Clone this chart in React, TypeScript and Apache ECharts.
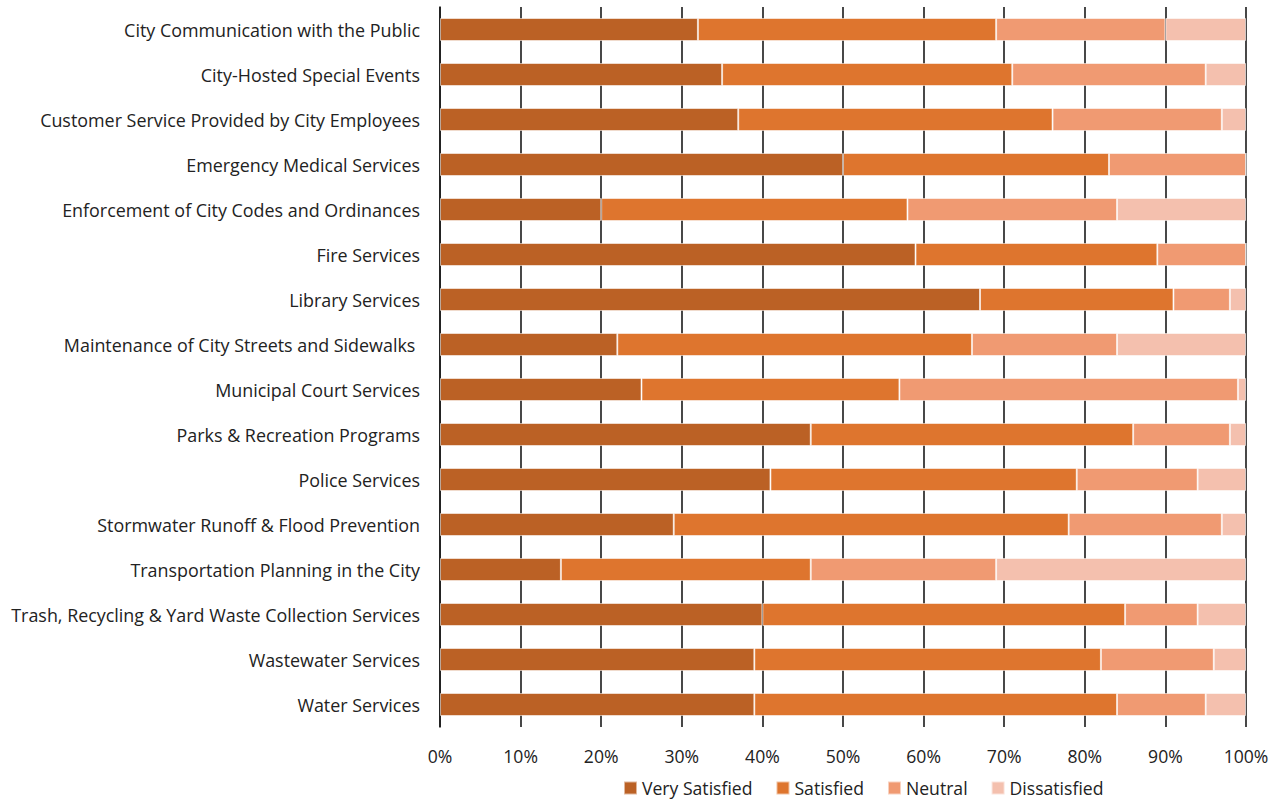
import React, { useEffect, useRef } from "react";
import * as echarts from "echarts";

const categories = [
  "City Communication with the Public",
  "City-Hosted Special Events",
  "Customer Service Provided by City Employees",
  "Emergency Medical Services",
  "Enforcement of City Codes and Ordinances",
  "Fire Services",
  "Library Services",
  "Maintenance of City Streets and Sidewalks ",
  "Municipal Court Services",
  "Parks & Recreation Programs",
  "Police Services",
  "Stormwater Runoff & Flood Prevention",
  "Transportation Planning in the City",
  "Trash, Recycling & Yard Waste Collection Services",
  "Wastewater Services",
  "Water Services",
];

const verySatisfied = [32, 35, 37, 50, 20, 59, 67, 22, 25, 46, 41, 29, 15, 40, 39, 39];
const satisfied = [37, 36, 39, 33, 38, 30, 24, 44, 32, 40, 38, 49, 31, 45, 43, 45];
const neutral = [21, 24, 21, 17, 26, 11, 7, 18, 42, 12, 15, 19, 23, 9, 14, 11];
const dissatisfied = [10, 5, 3, 0, 16, 0, 2, 16, 1, 2, 6, 3, 31, 6, 4, 5];

const seriesNames = ["Very Satisfied", "Satisfied", "Neutral", "Dissatisfied"];
const seriesColors = ["#BB6125", "#DE752E", "#F09A72", "#F4C0AE"];
const seriesData = [verySatisfied, satisfied, neutral, dissatisfied];

const FONT = "'Open Sans', 'Noto Sans', sans-serif";

export default function App() {
  const ref = useRef<HTMLDivElement>(null);

  useEffect(() => {
    if (!ref.current) return;
    const chart = echarts.init(ref.current, undefined, { renderer: "svg" });
    chart.setOption({
      animation: false,
      textStyle: { fontFamily: FONT },
      legend: {
        top: 774,
        left: 618,
        itemWidth: 13,
        itemHeight: 13,
        itemGap: 23,
        icon: "rect",
        textStyle: { fontSize: 17.6, color: "#222", fontFamily: FONT },
        data: seriesNames,
      },
      grid: { left: 440, right: 33, top: 7, height: 720 },
      xAxis: {
        type: "value",
        min: 0,
        max: 100,
        interval: 10,
        axisLabel: {
          formatter: "{value}%",
          fontSize: 17.6,
          color: "#222",
          margin: 20,
          fontFamily: FONT,
        },
        axisLine: { show: false },
        axisTick: { show: false },
        splitLine: { show: true, lineStyle: { color: "#1a1a1a", width: 1.6 } },
      },
      yAxis: {
        type: "category",
        inverse: true,
        data: categories,
        axisLine: { show: true, lineStyle: { color: "#1a1a1a", width: 1.6 } },
        axisTick: { show: false },
        axisLabel: { fontSize: 17.9, color: "#222", margin: 20, fontFamily: FONT },
      },
      series: seriesNames.map((name, i) => ({
        name,
        type: "bar",
        stack: "total",
        barWidth: 23,
        data: seriesData[i],
        itemStyle: {
          color: seriesColors[i],
          borderColor: "rgba(255,255,255,0.55)",
          borderWidth: 1,
        },
      })),
    });
    return () => chart.dispose();
  }, []);

  return <div ref={ref} style={{ width: 1279, height: 801, position: "absolute", left: 0, top: 0 }} />;
}
